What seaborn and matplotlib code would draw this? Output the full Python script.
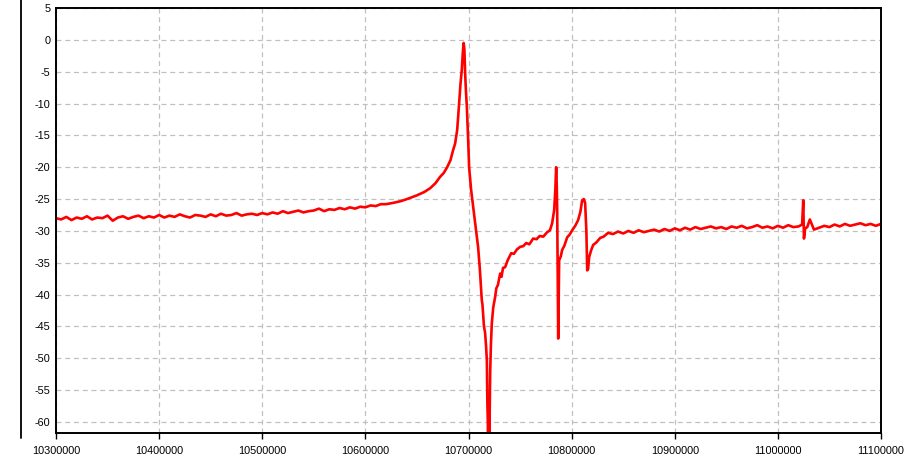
import numpy as np
import pandas as pd
import seaborn as sns
import matplotlib.pyplot as plt
from matplotlib.lines import Line2D

# baseline left of the resonance, sampled every 5000
x_left = list(range(10300000, 10620000, 5000))
y_left = [-28.0, -28.2, -27.8, -28.3, -27.9, -28.1, -27.7, -28.2, -27.9, -28.0,
          -27.6, -28.4, -27.9, -27.7, -28.1, -27.8, -27.6, -28.0, -27.7, -27.9,
          -27.5, -27.9, -27.6, -27.8, -27.4, -27.7, -27.9, -27.5, -27.6, -27.8,
          -27.4, -27.7, -27.3, -27.6, -27.5, -27.2, -27.6, -27.4, -27.3, -27.5,
          -27.2, -27.4, -27.1, -27.3, -26.9, -27.2, -27.0, -26.8, -27.1, -26.9,
          -26.8, -26.5, -26.9, -26.6, -26.7, -26.4, -26.6, -26.3, -26.5, -26.2,
          -26.3, -26.0, -26.1, -25.8]

# resonance, dip and the two spurs
x_mid = [10620000, 10626900, 10635000, 10642000, 10650200, 10657000, 10662800, 10668000,
         10672500, 10676000, 10679300, 10682500, 10685100, 10687000, 10689000, 10690250,
         10690900, 10692200, 10693500, 10694500, 10695300, 10696000, 10696800, 10697500,
         10698400, 10699500, 10700600, 10702500, 10704500, 10707000, 10709300, 10711000,
         10712900, 10713500, 10715000, 10716100, 10717000, 10717800, 10718300, 10719000,
         10719700, 10720300, 10721000, 10721700, 10722600, 10724000, 10725800, 10727000,
         10728500, 10730700, 10732000, 10733500, 10735500, 10738000, 10741400, 10744000,
         10747000, 10750100, 10753000, 10756000, 10759000, 10762700, 10766000, 10769000,
         10772500, 10776300, 10779000, 10781100, 10783100, 10784200, 10785000, 10785600,
         10786000, 10786500, 10787000, 10787500, 10787900, 10789500, 10790800, 10793000,
         10795700, 10798000, 10800500, 10803500, 10806300, 10808500, 10810200, 10811800,
         10813100, 10814300, 10815100, 10816000, 10817000, 10819000, 10820900, 10824000,
         10827700, 10831000, 10835400, 10840000]
y_mid = [-25.8, -25.6, -25.3, -24.9, -24.4, -23.9, -23.3, -22.5,
         -21.5, -20.9, -20.0, -18.9, -17.3, -16.3, -14.2, -11.5,
         -10.0, -7.0, -4.7, -2.0, -0.5, -1.5, -5.5, -8.0,
         -10.5, -15.0, -20.0, -23.5, -26.2, -29.5, -32.5, -36.0,
         -40.9, -41.5, -45.0, -46.0, -48.0, -50.3, -57.0, -61.8,
         -58.0, -62.0, -52.4, -48.0, -44.5, -42.0, -40.4, -39.0,
         -38.5, -36.7, -37.2, -35.8, -35.7, -34.6, -33.5, -33.6,
         -32.9, -32.5, -32.4, -31.9, -32.1, -31.2, -31.3, -30.8,
         -30.9, -30.2, -29.9, -28.8, -26.7, -23.5, -20.0, -23.0,
         -26.7, -36.0, -46.9, -40.0, -34.6, -34.0, -33.0, -32.3,
         -31.0, -30.6, -29.9, -29.2, -28.3, -27.0, -25.2, -25.0,
         -25.6, -30.0, -36.2, -36.0, -34.1, -33.0, -32.2, -31.8,
         -31.1, -30.9, -30.3, -30.5]

# baseline right of the resonance
x_right = list(range(10845000, 11025000, 5000))
y_right = [-30.1, -30.4, -30.0, -30.3, -29.9, -30.2, -30.0, -29.8, -30.1, -29.7, -30.0,
           -29.6, -29.9, -29.5, -29.8, -29.4, -29.7, -29.5, -29.3, -29.6, -29.4,
           -29.7, -29.3, -29.5, -29.2, -29.6, -29.4, -29.1, -29.5, -29.3, -29.6,
           -29.2, -29.5, -29.1, -29.4, -29.3]

# small spur near 11.02 MHz and tail
x_tail = [11023500, 11024600, 11025300, 11026500, 11028500, 11031000, 11033000, 11035000,
          11040000, 11045000, 11050000, 11055000, 11060000, 11065000, 11070000, 11075000,
          11080000, 11085000, 11090000, 11095000, 11100000]
y_tail = [-29.0, -25.2, -31.2, -29.6, -29.4, -28.2, -29.0, -29.8,
          -29.5, -29.2, -29.4, -29.0, -29.3, -28.9, -29.2, -29.0,
          -28.8, -29.1, -28.9, -29.2, -28.9]

x_ticks = [10300000, 10400000, 10500000, 10600000, 10700000,
           10800000, 10900000, 11000000, 11100000]
y_ticks = [5, 0, -5, -10, -15, -20, -25, -30, -35, -40, -45, -50, -55, -60]

df = pd.DataFrame({'freq': x_left + x_mid + x_right + x_tail,
                   'level': y_left + y_mid + y_right + y_tail})

sns.set_style('white')
plt.rcParams['font.family'] = ['Liberation Sans', 'DejaVu Sans']

fig = plt.figure(figsize=(9.18, 4.57), dpi=100)
ax = fig.add_axes([56 / 918, 1 - 433 / 457, 825 / 918, 425 / 457])

sns.lineplot(data=df, x='freq', y='level', color='#ff0000', linewidth=1.9,
             estimator=None, sort=False, ax=ax)

ax.set_xlim(10300000, 11100000)
ax.set_ylim(-61.73, 5)
ax.set_xticks(x_ticks)
ax.set_xticklabels([str(v) for v in x_ticks])
ax.set_yticks(y_ticks)
ax.set_yticklabels([str(v) for v in y_ticks])
ax.set_xlabel('')
ax.set_ylabel('')

ax.grid(True, color='#c0c0c0', linestyle=(0, (4, 3)), linewidth=0.9)
ax.set_axisbelow(True)
for s in ax.spines.values():
    s.set_visible(True)
    s.set_color('black')
    s.set_linewidth(1.4)

ax.tick_params(axis='x', length=4, width=1, direction='out', pad=5,
               labelsize=7.8, colors='black', bottom=True)
ax.tick_params(axis='y', length=0, pad=4, labelsize=7.8, colors='black')

# separate vertical rule at far left
fig.add_artist(Line2D([21 / 918, 21 / 918], [1 - 438 / 457, 1.0],
                      color='black', linewidth=1.3))

plt.savefig('out.png', dpi=100)
plt.close()
